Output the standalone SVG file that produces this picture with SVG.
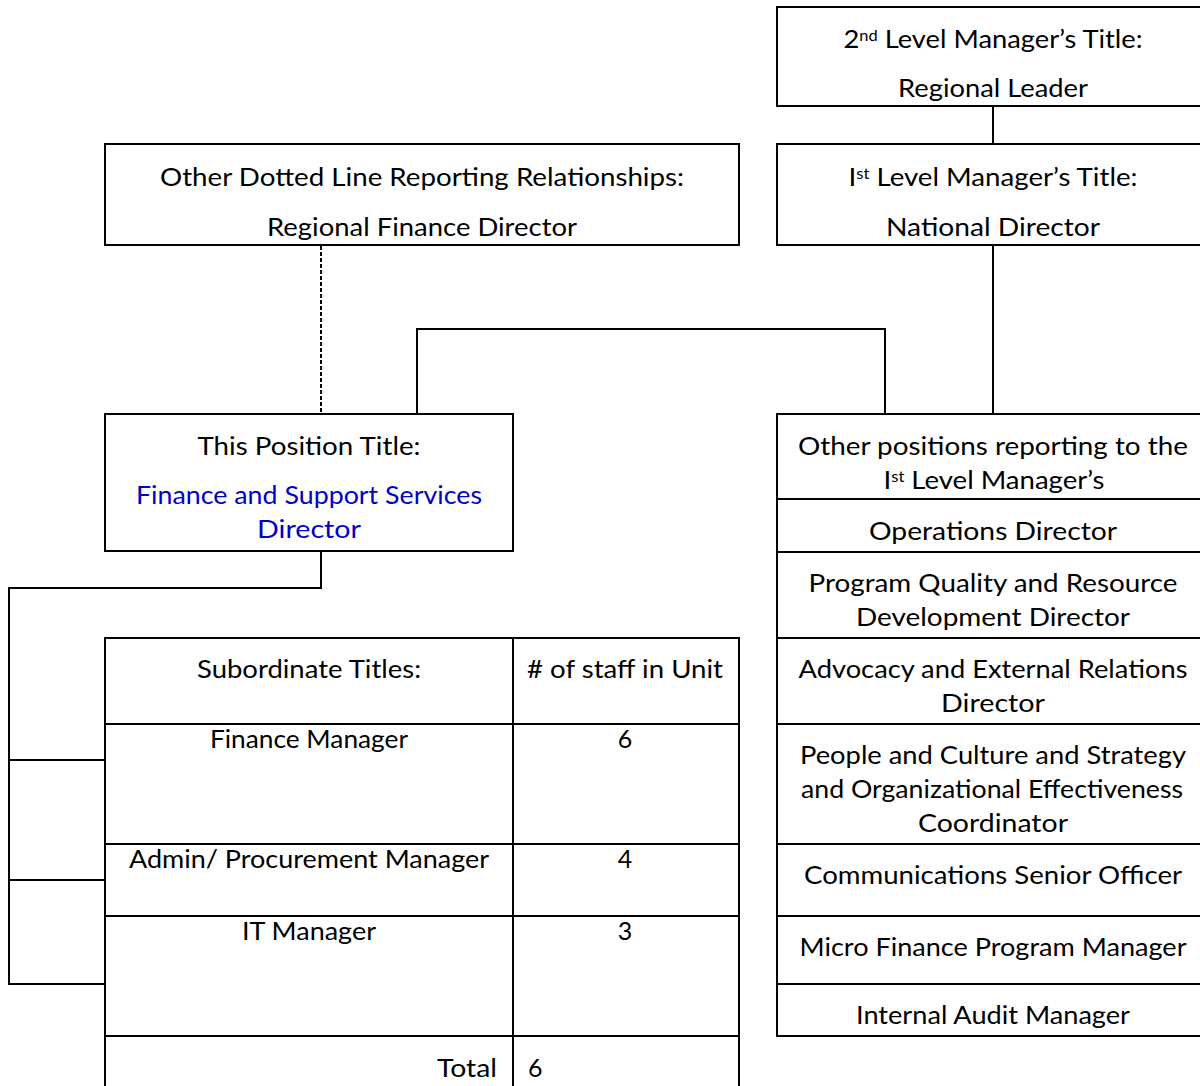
<svg xmlns="http://www.w3.org/2000/svg" width="1200" height="1086" viewBox="0 0 1200 1086">
<style>
text{font-family:Lato,"Open Sans","Liberation Sans",sans-serif;font-size:25px;fill:#000;text-anchor:middle}
.blue{fill:#0000cc}
.box{fill:#fff;stroke:#000;stroke-width:2}
.ln{fill:none;stroke:#000;stroke-width:2}
.dash{fill:none;stroke:#000;stroke-width:2;stroke-dasharray:4 2}
.sup{font-size:15px}
</style>
<rect width="1200" height="1086" fill="#fff"/>
<g id="connectors">
<line class="ln" x1="993" y1="106" x2="993" y2="144"/>
<line class="ln" x1="993" y1="245" x2="993" y2="414"/>
<polyline class="ln" points="417,414 417,329 885,329 885,414"/>
<line class="dash" x1="321" y1="246" x2="321" y2="413"/>
<polyline class="ln" points="321,551 321,588 9,588 9,984 105,984"/>
<line class="ln" x1="9" y1="760" x2="105" y2="760"/>
<line class="ln" x1="9" y1="880" x2="105" y2="880"/>
</g>
<g id="node-2nd-level">
<rect class="box" x="777" y="7" width="430" height="99"/>
<text x="993" y="48" textLength="299" lengthAdjust="spacingAndGlyphs">2<tspan class="sup" dy="-7">nd</tspan><tspan dy="7"> Level Manager’s Title:</tspan></text>
<text x="993" y="97" textLength="190" lengthAdjust="spacingAndGlyphs">Regional Leader</text>
</g>
<g id="node-1st-level">
<rect class="box" x="777" y="144" width="430" height="101"/>
<text x="993" y="186" textLength="289" lengthAdjust="spacingAndGlyphs">I<tspan class="sup" dy="-7">st</tspan><tspan dy="7"> Level Manager’s Title:</tspan></text>
<text x="993" y="236" textLength="214" lengthAdjust="spacingAndGlyphs">National Director</text>
</g>
<g id="node-dotted">
<rect class="box" x="105" y="144" width="634" height="101"/>
<text x="422" y="186" textLength="524" lengthAdjust="spacingAndGlyphs">Other Dotted Line Reporting Relationships:</text>
<text x="422" y="236" textLength="310" lengthAdjust="spacingAndGlyphs">Regional Finance Director</text>
</g>
<g id="node-this-position">
<rect class="box" x="105" y="414" width="408" height="137"/>
<text x="309" y="455" textLength="223" lengthAdjust="spacingAndGlyphs">This Position Title:</text>
<text class="blue" x="309" y="504" textLength="346" lengthAdjust="spacingAndGlyphs">Finance and Support Services</text>
<text class="blue" x="309" y="538" textLength="104" lengthAdjust="spacingAndGlyphs">Director</text>
</g>
<g id="node-other-positions">
<rect class="box" x="777" y="414" width="430" height="622"/>
<line class="ln" x1="777" y1="499" x2="1207" y2="499"/>
<line class="ln" x1="777" y1="552" x2="1207" y2="552"/>
<line class="ln" x1="777" y1="638" x2="1207" y2="638"/>
<line class="ln" x1="777" y1="724" x2="1207" y2="724"/>
<line class="ln" x1="777" y1="844" x2="1207" y2="844"/>
<line class="ln" x1="777" y1="916" x2="1207" y2="916"/>
<line class="ln" x1="777" y1="984" x2="1207" y2="984"/>
<text x="993" y="455" textLength="390" lengthAdjust="spacingAndGlyphs">Other positions reporting to the</text>
<text x="994" y="489" textLength="221" lengthAdjust="spacingAndGlyphs">I<tspan class="sup" dy="-7">st</tspan><tspan dy="7"> Level Manager’s</tspan></text>
<text x="993" y="540" textLength="248" lengthAdjust="spacingAndGlyphs">Operations Director</text>
<text x="993" y="592" textLength="369" lengthAdjust="spacingAndGlyphs">Program Quality and Resource</text>
<text x="993" y="626" textLength="274" lengthAdjust="spacingAndGlyphs">Development Director</text>
<text x="993" y="678" textLength="389" lengthAdjust="spacingAndGlyphs">Advocacy and External Relations</text>
<text x="993" y="712" textLength="104" lengthAdjust="spacingAndGlyphs">Director</text>
<text x="993" y="764" textLength="386" lengthAdjust="spacingAndGlyphs">People and Culture and Strategy</text>
<text x="992" y="798" textLength="382" lengthAdjust="spacingAndGlyphs">and Organizational Effectiveness</text>
<text x="993" y="832" textLength="150" lengthAdjust="spacingAndGlyphs">Coordinator</text>
<text x="993" y="884" textLength="378" lengthAdjust="spacingAndGlyphs">Communications Senior Officer</text>
<text x="993" y="956" textLength="387" lengthAdjust="spacingAndGlyphs">Micro Finance Program Manager</text>
<text x="993" y="1024" textLength="274" lengthAdjust="spacingAndGlyphs">Internal Audit Manager</text>
</g>
<g id="node-subordinates">
<rect class="box" x="105" y="638" width="634" height="460"/>
<line class="ln" x1="513" y1="638" x2="513" y2="1098"/>
<line class="ln" x1="105" y1="724" x2="739" y2="724"/>
<line class="ln" x1="105" y1="844" x2="739" y2="844"/>
<line class="ln" x1="105" y1="916" x2="739" y2="916"/>
<line class="ln" x1="105" y1="1036" x2="739" y2="1036"/>
<text x="309" y="678" textLength="224" lengthAdjust="spacingAndGlyphs">Subordinate Titles:</text>
<text x="625" y="678" textLength="196" lengthAdjust="spacingAndGlyphs"># of staff in Unit</text>
<text x="309" y="748" textLength="198" lengthAdjust="spacingAndGlyphs">Finance Manager</text>
<text x="625" y="748">6</text>
<text x="309" y="868" textLength="360" lengthAdjust="spacingAndGlyphs">Admin/ Procurement Manager</text>
<text x="625" y="868">4</text>
<text x="309" y="940" textLength="134" lengthAdjust="spacingAndGlyphs">IT Manager</text>
<text x="625" y="940">3</text>
<text x="497" y="1077" style="text-anchor:end" textLength="60" lengthAdjust="spacingAndGlyphs">Total</text>
<text x="528" y="1077" style="text-anchor:start">6</text>
</g>
</svg>
